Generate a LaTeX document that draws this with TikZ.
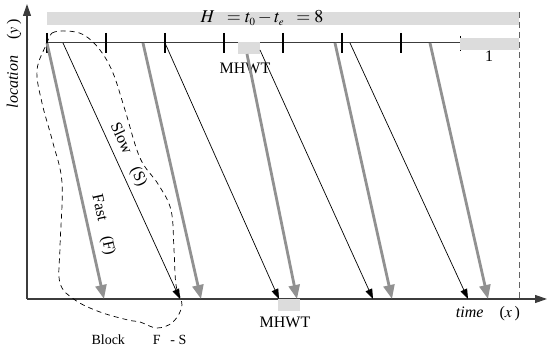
\documentclass[tikz,border=0pt]{standalone}
\usepackage{mathptmx}
\usepackage{fontspec}
\setmainfont{Liberation Serif}
\usetikzlibrary{arrows.meta}
\definecolor{fastgray}{RGB}{145,145,145}
\definecolor{boxgray}{RGB}{220,220,220}
\definecolor{axisgray}{RGB}{60,60,60}

\begin{document}
\begin{tikzpicture}[x=1pt, y=-1pt, line join=round,
    fast/.style={draw=fastgray, line width=2.8pt, -{Triangle[length=14pt, width=11pt]}},
    slow/.style={draw=black, line width=0.7pt, -{Triangle[length=10pt, width=7pt]}},
    axis/.style={draw=axisgray, line width=1.2pt, -{Triangle[length=12pt, width=8pt]}},
    tick/.style={draw=black, line width=2.4pt},
    lab/.style={font=\fontsize{16}{18}\selectfont, inner sep=0pt}]
    \useasboundingbox (0,0) rectangle (547,352);
    % Achsen
    \coordinate (O) at (27,299);
    \coordinate (Y) at (27,4);
    \coordinate (X) at (547,299);
    \draw[axis] (O) -- (Y);
    \draw[axis] (O) -- (X);
    \node[lab, rotate=90] (ylab) at (14,64) {\textit{location}\quad($y$\,)};
    \node[lab] (xlab) at (488,314) {\textit{time}\quad($x$\,)};
    % Horizont
    \fill[boxgray] (47,12) rectangle (519,25);
    \node[font=\fontsize{18}{20}\selectfont, inner sep=0pt] (hlab) at (262,18)
        {$H\;\; = t_{\scriptscriptstyle 0} - t_{\scriptscriptstyle e} \;\;= 8$};
    \coordinate (Htop) at (519,12);
    \coordinate (Hbot) at (519,299);
    \draw[dashed, axisgray!80, line width=1pt, dash pattern=on 6pt off 4pt] (Htop) -- (Hbot);
    % Abfahrtslinie mit Takt
    \coordinate (L0) at (47,43);
    \coordinate (L1) at (460,43);
    \draw[axisgray, line width=1pt] (L0) -- (L1);
    \draw[line width=0.8pt] (460,36) -- (460,51);
    \fill[boxgray] (460,38) rectangle (519,50);
    \node[lab] (one) at (489,56) {1};
    \draw[tick] (47,33) -- (47,53);
    \draw[tick] (106,33) -- (106,53);
    \draw[tick] (165,33) -- (165,53);
    \draw[tick] (224,33) -- (224,53);
    \draw[tick] (283,33) -- (283,53);
    \draw[tick] (342,33) -- (342,53);
    \draw[tick] (401,33) -- (401,53);
    % MHWT oben und unten
    \fill[boxgray] (238,42) rectangle (260,54);
    \node[lab] (mtop) at (245,68) {MHWT};
    \fill[boxgray] (278,299) rectangle (300,311);
    \node[lab] (mbot) at (285,322) {MHWT};
    % Fast (F)
    \coordinate (F1a) at (47,43);  \coordinate (F1b) at (104,299);
    \coordinate (F2a) at (143,43); \coordinate (F2b) at (201,299);
    \coordinate (F3a) at (247,54); \coordinate (F3b) at (297,299);
    \coordinate (F4a) at (335,43); \coordinate (F4b) at (392,299);
    \coordinate (F5a) at (430,43); \coordinate (F5b) at (488,299);
    \draw[fast] (F1a) -- (F1b);
    \draw[fast] (F2a) -- (F2b);
    \draw[fast] (F3a) -- (F3b);
    \draw[fast] (F4a) -- (F4b);
    \draw[fast] (F5a) -- (F5b);
    % Slow (S)
    \coordinate (S1a) at (63,43);  \coordinate (S1b) at (180,299);
    \coordinate (S2a) at (165,43); \coordinate (S2b) at (279,299);
    \coordinate (S3a) at (260,50); \coordinate (S3b) at (373,299);
    \coordinate (S4a) at (350,43); \coordinate (S4b) at (468,299);
    \draw[slow] (S1a) -- (S1b);
    \draw[slow] (S2a) -- (S2b);
    \draw[slow] (S3a) -- (S3b);
    \draw[slow] (S4a) -- (S4b);
    \node[lab, rotate=-65.4] (slab) at (128,155) {Slow\quad(S)};
    \node[lab, rotate=-77.4] (flab) at (103,225) {Fast\quad(F)};
    % Block F-S
    \draw[dashed, line width=0.7pt, dash pattern=on 5pt off 4pt] plot[smooth cycle, tension=0.6] coordinates {
        (47,43) (52,33) (67,31) (84,35) (100,50) (113,73) (125,110) (140,158)
        (158,184) (171,210) (174,250) (176,285) (182,305) (173,322) (157,328)
        (140,322) (128,320) (100,312) (75,300) (60,283) (60,247) (62,183)
        (53,143) (42,103) (37,70)};
    \node[lab, font=\fontsize{14}{16}\selectfont] (blab) at (139,340) {Block\qquad F\;\, - S};
\end{tikzpicture}
\end{document}
